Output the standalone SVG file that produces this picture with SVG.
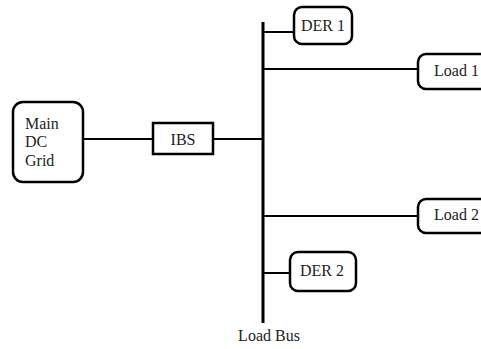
<svg xmlns="http://www.w3.org/2000/svg" width="481" height="349" viewBox="0 0 481 349">
<style>
.box{fill:#fff;stroke:#000;stroke-width:2.5}
.ln{stroke:#000;stroke-width:2;fill:none}
.bus{stroke:#000;stroke-width:3;fill:none}
text{font-family:"Liberation Serif","Times New Roman",serif;font-size:16px;fill:#222}
.c{text-anchor:middle}
</style>
<rect width="481" height="349" fill="#fff"/>
<g id="connectors">
<line class="bus" x1="263" y1="22" x2="263" y2="323"/>
<line class="ln" x1="83" y1="139" x2="153" y2="139"/>
<line class="ln" x1="213" y1="139" x2="263" y2="139"/>
<line class="ln" x1="263" y1="32" x2="294" y2="32"/>
<line class="ln" x1="263" y1="69" x2="418" y2="69"/>
<line class="ln" x1="263" y1="216" x2="418" y2="216"/>
<line class="ln" x1="263" y1="273" x2="290" y2="273"/>
</g>
<g id="main-dc-grid">
<rect class="box" x="13" y="102" width="70" height="80" rx="10"/>
<text x="25" y="129">Main</text>
<text x="25" y="147">DC</text>
<text x="25" y="166">Grid</text>
</g>
<g id="ibs">
<rect class="box" x="153" y="123" width="60" height="31"/>
<text class="c" x="183" y="145">IBS</text>
</g>
<g id="der1">
<rect class="box" x="294" y="7" width="58" height="37" rx="8"/>
<text class="c" x="323" y="31">DER 1</text>
</g>
<g id="load1">
<rect class="box" x="418" y="54" width="75" height="35" rx="8"/>
<text x="434" y="76">Load 1</text>
</g>
<g id="load2">
<rect class="box" x="418" y="199" width="75" height="34" rx="8"/>
<text x="434" y="220">Load 2</text>
</g>
<g id="der2">
<rect class="box" x="290" y="252" width="66" height="39" rx="8"/>
<text class="c" x="322" y="276">DER 2</text>
</g>
<g id="load-bus-label">
<text class="c" x="269" y="341">Load Bus</text>
</g>
</svg>
